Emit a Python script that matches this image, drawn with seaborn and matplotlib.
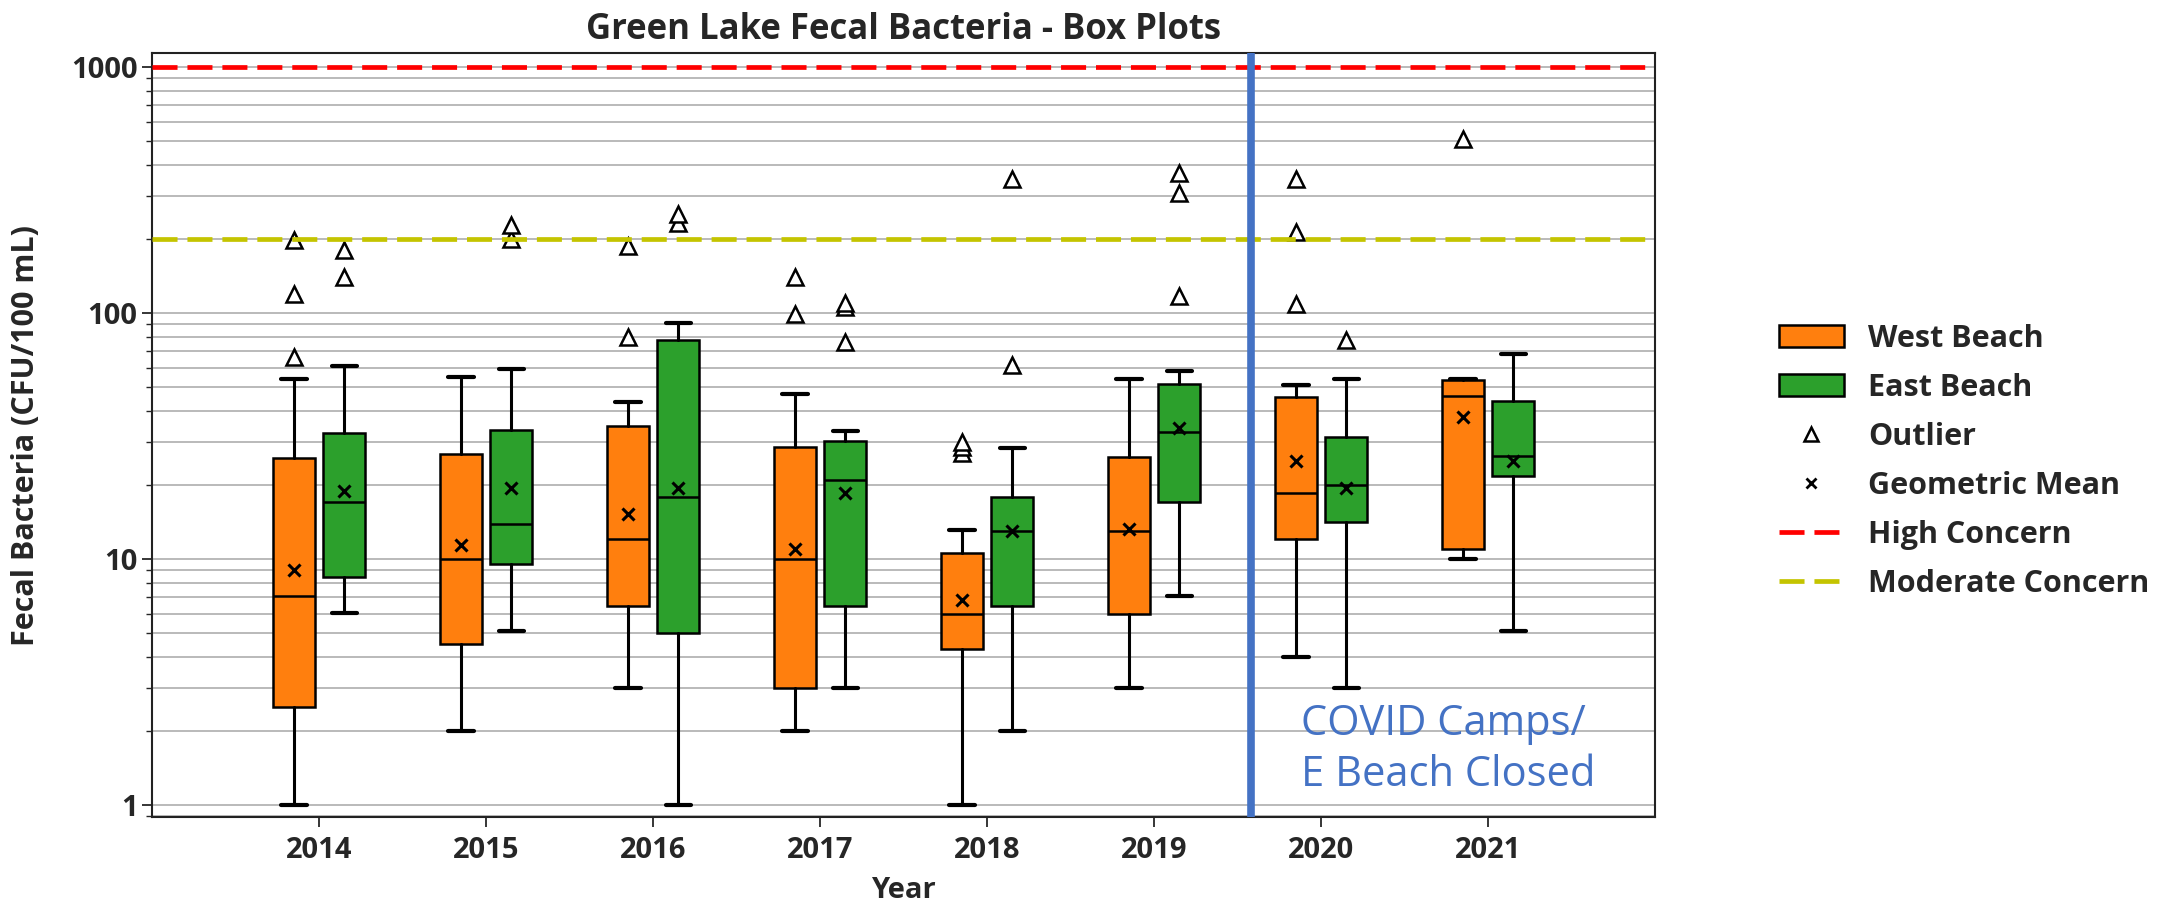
import numpy as np
import seaborn as sns
import matplotlib.pyplot as plt
from matplotlib.patches import Patch
from matplotlib.lines import Line2D
from matplotlib.ticker import FixedLocator, FixedFormatter, LogLocator, NullFormatter

# values (CFU/100 mL)
years = ['2014', '2015', '2016', '2017', '2018', '2019', '2020', '2021']

west_low = [1.0, 2.0, 3.0, 2.0, 1.0, 3.0, 4.0, 10.0]
west_q1 = [2.5, 4.5, 6.45, 3.0, 4.3, 6.0, 12.1, 11.0]
west_med = [7.05, 10.0, 12.1, 10.0, 6.0, 13.0, 18.5, 46.0]
west_q3 = [25.7, 26.7, 34.9, 28.6, 10.6, 26.1, 45.5, 53.3]
west_high = [54.0, 55.0, 43.5, 46.7, 13.1, 54.0, 51.0, 54.1]
west_gmean = [9.0, 11.4, 15.2, 11.0, 6.8, 13.2, 25.0, 37.9]
west_out = [[66, 119, 198], [], [80, 187], [99, 140], [27, 28.5, 30],
            [], [109, 214, 349], [512]]

east_low = [6.06, 5.09, 1.0, 3.0, 2.0, 7.1, 3.0, 5.08]
east_q1 = [8.43, 9.55, 5.03, 6.45, 6.45, 17.0, 14.2, 21.8]
east_med = [17.0, 13.95, 17.9, 21.0, 13.0, 32.9, 19.95, 26.2]
east_q3 = [32.4, 33.5, 78.0, 30.2, 17.9, 51.5, 31.3, 43.8]
east_high = [61.2, 59.1, 91.0, 33.3, 28.3, 58.0, 54.0, 68.4]
east_gmean = [18.9, 19.5, 19.5, 18.5, 13.0, 34.0, 19.5, 25.0]
east_out = [[140, 180], [200, 228], [232, 252], [76, 106, 110], [61.7, 352],
            [117, 308, 370], [77.5], []]

high_concern = 1000
moderate_concern = 200

west_color = '#ff7f0e'
east_color = '#2ca02c'
blue = '#4472c4'

sns.set_style('white')
plt.rcParams['font.family'] = ['Open Sans', 'DejaVu Sans']


def make_stats(low, q1, med, q3, high, gmean, out):
    return [dict(whislo=a, q1=b, med=c, q3=d, whishi=e, mean=f, fliers=g)
            for a, b, c, d, e, f, g in zip(low, q1, med, q3, high, gmean, out)]


fig = plt.figure(figsize=(21.66, 9.06), dpi=100)
ax = fig.add_axes([0.0702, 0.0982, 0.6939, 0.8433])

pos = np.arange(len(years))
common = dict(widths=0.25, patch_artist=True, showmeans=True, manage_ticks=False,
              capwidths=0.15,
              medianprops=dict(color='black', lw=1.8),
              whiskerprops=dict(color='black', lw=2.2),
              capprops=dict(color='black', lw=3),
              flierprops=dict(marker='^', markerfacecolor='white', markeredgecolor='black',
                              markersize=11, markeredgewidth=1.8, linestyle='none'),
              meanprops=dict(marker='x', markeredgecolor='black', markersize=8,
                             markeredgewidth=2.2))

ax.bxp(make_stats(west_low, west_q1, west_med, west_q3, west_high, west_gmean, west_out),
       positions=pos - 0.15,
       boxprops=dict(facecolor=west_color, edgecolor='black', lw=1.8), **common)
ax.bxp(make_stats(east_low, east_q1, east_med, east_q3, east_high, east_gmean, east_out),
       positions=pos + 0.15,
       boxprops=dict(facecolor=east_color, edgecolor='black', lw=1.8), **common)

ax.axhline(high_concern, color='red', lw=3.4, ls=(0, (5.3, 2.1)), zorder=3)
ax.axhline(moderate_concern, color='#c4c400', lw=3.4, ls=(0, (5.3, 2.1)), zorder=3)
ax.axvline(5.58, color=blue, lw=5.5, zorder=4)
ax.text(5.88, 1.68, 'COVID Camps/\nE Beach Closed', color=blue, fontsize=30,
        ha='left', va='center', linespacing=1.28)

ax.set_yscale('log')
ax.set_ylim(0.895, 1140)
ax.set_xlim(-1, 8)
ax.yaxis.set_major_locator(FixedLocator([1, 10, 100, 1000]))
ax.yaxis.set_major_formatter(FixedFormatter(['1', '10', '100', '1000']))
ax.yaxis.set_minor_locator(LogLocator(base=10, subs=np.arange(2, 10)))
ax.yaxis.set_minor_formatter(NullFormatter())
ax.grid(True, axis='y', which='both', color='#b4b4b4', lw=1.3, zorder=0)
ax.set_axisbelow(True)

ax.set_xticks(pos)
ax.set_xticklabels(years)
ax.tick_params(axis='both', which='major', labelsize=21, length=7, width=1.3,
               direction='out', left=True, bottom=True)
ax.tick_params(axis='x', which='major', pad=7)
ax.tick_params(axis='y', which='minor', length=4, width=1, left=True)
for lab in ax.get_xticklabels() + ax.get_yticklabels():
    lab.set_fontweight('bold')
for sp in ax.spines.values():
    sp.set_color('#222222')
    sp.set_linewidth(1.5)

ax.set_title('Green Lake Fecal Bacteria - Box Plots', fontsize=25, fontweight='bold', pad=10)
ax.set_xlabel('Year', fontsize=21, fontweight='bold')
ax.set_ylabel('Fecal Bacteria (CFU/100 mL)', fontsize=22, fontweight='bold')
ax.xaxis.set_label_coords(0.5, -0.077)
ax.yaxis.set_label_coords(-0.074, 0.5)

handles = [
    Patch(facecolor=west_color, edgecolor='black', lw=1.8, label='West Beach'),
    Patch(facecolor=east_color, edgecolor='black', lw=1.8, label='East Beach'),
    Line2D([], [], marker='^', ls='none', markerfacecolor='white', markeredgecolor='black',
           markersize=10, markeredgewidth=1.8, label='Outlier'),
    Line2D([], [], marker='x', ls='none', color='black', markersize=7,
           markeredgewidth=2, label='Geometric Mean'),
    Line2D([], [], color='red', lw=3.4, ls=(0, (5.3, 2.1)), label='High Concern'),
    Line2D([], [], color='#c4c400', lw=3.4, ls=(0, (5.3, 2.1)), label='Moderate Concern'),
]
leg = fig.legend(handles=handles, loc='center left', bbox_to_anchor=(0.8213, 0.491),
                 frameon=False, fontsize=22, handlelength=2.12, handleheight=0.72,
                 handletextpad=0.8, labelspacing=0.62, borderpad=0, borderaxespad=0)
for t in leg.get_texts():
    t.set_fontweight('bold')

fig.savefig('out.png', dpi=100)
